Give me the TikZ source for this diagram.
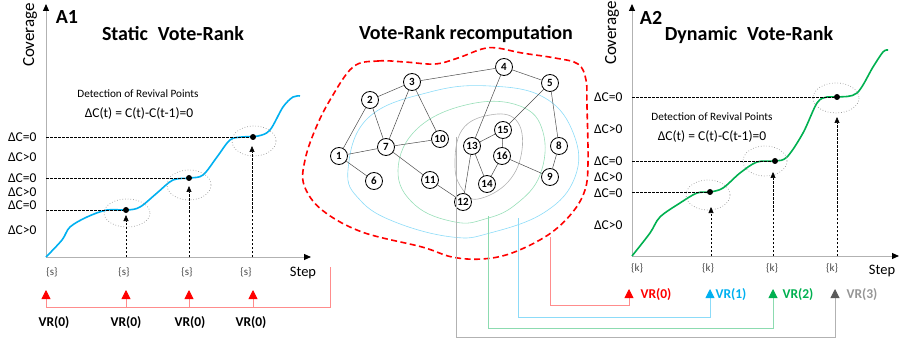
\documentclass[tikz,border=0pt]{standalone}
\usepackage{fontspec}
\setmainfont{Carlito}
\usepackage{tikz}
\usetikzlibrary{arrows.meta}
\definecolor{vrred}{RGB}{255,0,0}
\definecolor{vrblue}{RGB}{0,176,240}
\definecolor{vrgreen}{RGB}{0,176,80}
\definecolor{vrgray}{RGB}{150,150,150}
\tikzset{
    vertex/.style={circle,draw,line width=0.8pt,fill=white,minimum size=17pt,inner sep=0pt,font=\bfseries\fontsize{11}{11}\selectfont},
    edge/.style={draw=black!70,line width=0.5pt},
    axis/.style={draw=black!30,line width=1pt,-{Triangle[length=7pt,width=6pt,color=black]}},
    level/.style={dash pattern=on 2.5pt off 1.5pt,line width=0.6pt},
    revival/.style={level,-{Triangle[length=6pt,width=5pt]}},
    dot/.style={circle,fill=black,inner sep=0pt,minimum size=6pt},
    zone/.style={draw=black!40,dotted,line width=0.7pt},
    title/.style={font=\bfseries\fontsize{20}{23}\selectfont},
    ylab/.style={font=\fontsize{14.5}{16}\selectfont},
    eqlab/.style={font=\fontsize{13.5}{15}\selectfont},
    dlab/.style={font=\fontsize{13.5}{15}\selectfont,anchor=east},
    small/.style={font=\fontsize{11.2}{13}\selectfont},
    tick/.style={font=\fontsize{11}{12}\selectfont,text=black!70},
    vr/.style={font=\bfseries\fontsize{13.5}{15}\selectfont},
    feed/.style={line width=0.9pt,-{Triangle[length=9pt,width=9pt]}}
}

\begin{document}
\begin{tikzpicture}[x=1pt,y=-1pt]
\useasboundingbox (0,0) rectangle (899,339);

% ---------- A1 : static ----------
\node[title] (a1) at (67,17) {A1};
\node[title] (t1) at (173,34) {Static\hspace{0.5em}Vote-Rank};
\node[ylab,rotate=90,font=\fontsize{17}{19}\selectfont] (cov1) at (30,35) {Coverage};
\coordinate (o1) at (46,257);
\coordinate (yt1) at (46,4);
\coordinate (xt1) at (311,257);
\draw[axis] (o1) -- (yt1);
\draw[axis] (o1) -- (xt1);
\node[ylab] (st1) at (303,273) {Step};

\draw[vrblue,line width=1.6pt] plot[smooth,tension=0.55] coordinates {(46,257) (62,240) (70,227) (87,217) (107,210) (127,210) (140,207) (157,193) (173,180) (190,178) (203,175) (217,157) (230,140) (242,137) (258,136) (270,130) (283,107) (293,97) (300,96)};

\node[dot] (s1) at (126,210) {};
\node[dot] (s2) at (189,178) {};
\node[dot] (s3) at (253,137) {};
\draw[zone] (127,213) ellipse [x radius=23,y radius=14];
\draw[zone] (189,185) ellipse [x radius=22,y radius=15];
\draw[zone] (254,141) ellipse [x radius=22,y radius=15];

\draw[level] (46,210) -- (s1);
\draw[level] (46,178) -- (s2);
\draw[level] (46,137) -- (s3);
\draw[revival] (126,257) -- (126,215);
\draw[revival] (189,257) -- (189,186);
\draw[revival] (252,257) -- (252,146);

\node[dlab] (l1a) at (40,137) {ΔC=0};
\node[dlab] (l1b) at (40,157) {ΔC>0};
\node[dlab] (l1c) at (40,178) {ΔC=0};
\node[dlab] (l1d) at (40,192) {ΔC>0};
\node[dlab] (l1e) at (40,205) {ΔC=0};
\node[dlab] (l1f) at (40,230) {ΔC>0};

\node[small] (det1) at (138,94) {Detection of Revival Points};
\node[eqlab] (eq1) at (139,113) {ΔC(t) = C(t)-C(t-1)=0};

\node[tick] (k1a) at (52,272) {\{s\}};
\node[tick] (k1b) at (124,272) {\{s\}};
\node[tick] (k1c) at (187,272) {\{s\}};
\node[tick] (k1d) at (246,272) {\{s\}};

% static feed
\coordinate (sf) at (330,267);
\coordinate (sb) at (46,307);
\draw[vrred!45,line width=0.9pt] (sf) |- (sb);
\draw[feed,draw=vrred!45,-{Triangle[length=9pt,width=9pt,color=vrred]}] (46,307) -- (46,290);
\draw[feed,draw=vrred!45,-{Triangle[length=9pt,width=9pt,color=vrred]}] (126,307) -- (126,290);
\draw[feed,draw=vrred!45,-{Triangle[length=9pt,width=9pt,color=vrred]}] (189,307) -- (189,290);
\draw[feed,draw=vrred!45,-{Triangle[length=9pt,width=9pt,color=vrred]}] (253,307) -- (253,290);
\node[vr] (v1a) at (54,323) {VR(0)};
\node[vr] (v1b) at (126,323) {VR(0)};
\node[vr] (v1c) at (190,323) {VR(0)};
\node[vr] (v1d) at (251,323) {VR(0)};

% ---------- recomputation ----------
\node[title] (t0) at (466,34) {Vote-Rank recomputation};
\draw[vrred,line width=1.6pt,dash pattern=on 6pt off 3.5pt] plot[smooth cycle,tension=0.6] coordinates {(353,67) (378,61) (405,62) (435,64) (458,58) (482,49) (497,48) (522,53) (555,58) (578,64) (586,80) (587,107) (588,163) (585,190) (572,213) (548,235) (512,253) (482,259) (452,257) (422,247) (362,232) (322,210) (304,185) (305,160) (315,130) (330,100)};
\draw[vrblue!45,line width=0.6pt] plot[smooth cycle,tension=0.7] coordinates {(348,170) (368,118) (430,92) (490,86) (545,98) (574,135) (575,177) (545,212) (490,233) (452,237) (395,222) (360,200)};
\draw[vrgreen!40,line width=0.6pt] plot[smooth cycle,tension=0.7] coordinates {(398,170) (418,128) (470,104) (520,106) (543,132) (540,175) (515,205) (485,219) (455,222) (415,205)};
\draw[black!30,line width=0.6pt] plot[smooth cycle,tension=0.7] coordinates {(455,167) (462,130) (490,115) (516,120) (522,150) (508,182) (478,199) (463,190)};

\node[vertex] (1) at (339,156) {1};
\node[vertex] (2) at (370,100) {2};
\node[vertex] (3) at (412,82) {3};
\node[vertex] (4) at (504,67) {4};
\node[vertex] (5) at (550,83) {5};
\node[vertex] (6) at (374,181) {6};
\node[vertex] (7) at (386,147) {7};
\node[vertex] (8) at (559,146) {8};
\node[vertex] (9) at (550,177) {9};
\node[vertex] (10) at (440,139) {10};
\node[vertex] (11) at (430,180) {11};
\node[vertex] (12) at (463,202) {12};
\node[vertex] (13) at (472,146) {13};
\node[vertex] (14) at (487,184) {14};
\node[vertex] (15) at (503,130) {15};
\node[vertex] (16) at (502,156) {16};

\draw[edge] (1) -- (2);
\draw[edge] (1) -- (7);
\draw[edge] (1) -- (6);
\draw[edge] (2) -- (3);
\draw[edge] (2) -- (7);
\draw[edge] (3) -- (7);
\draw[edge] (3) -- (10);
\draw[edge] (3) -- (4);
\draw[edge] (4) -- (5);
\draw[edge] (4) -- (13);
\draw[edge] (5) -- (15);
\draw[edge] (5) -- (8);
\draw[edge] (8) -- (9);
\draw[edge] (16) -- (9);
\draw[edge] (7) -- (10);
\draw[edge] (7) -- (11);
\draw[edge] (11) -- (12);
\draw[edge] (12) -- (13);
\draw[edge] (13) -- (15);
\draw[edge] (13) -- (14);
\draw[edge] (15) -- (16);
\draw[edge] (16) -- (14);

% ---------- A2 : dynamic ----------
\node[title] (a2) at (651,18) {A2};
\node[title] (t2) at (749,35) {Dynamic\hspace{0.5em}Vote-Rank};
\node[ylab,rotate=90,font=\fontsize{17}{19}\selectfont] (cov2) at (612,33) {Coverage};
\coordinate (o2) at (632,256);
\coordinate (yt2) at (632,4);
\coordinate (xt2) at (899,256);
\draw[axis] (o2) -- (yt2);
\draw[axis] (o2) -- (xt2);
\node[ylab] (st2) at (882,271) {Step};

\draw[vrgreen,line width=1.6pt] plot[smooth,tension=0.55] coordinates {(632,256) (650,233) (660,217) (680,203) (697,193) (710,192) (723,188) (740,173) (757,162) (775,161) (787,157) (803,133) (817,103) (827,97) (838,97) (857,93) (873,67) (883,52) (888,50)};

\node[dot] (d1) at (710,192) {};
\node[dot] (d2) at (775,161) {};
\node[dot] (d3) at (837,97) {};
\draw[zone] (708,195) ellipse [x radius=22,y radius=15];
\draw[zone] (765,161) ellipse [x radius=22,y radius=15];
\draw[zone] (836,98) ellipse [x radius=23,y radius=15];

\draw[level] (632,192) -- (d1);
\draw[level] (632,161) -- (d2);
\draw[level] (632,97) -- (d3);
\draw[revival] (711,256) -- (711,207);
\draw[revival] (773,256) -- (773,172);
\draw[revival] (837,256) -- (837,117);

\node[dlab] (l2a) at (626,97) {ΔC=0};
\node[dlab] (l2b) at (626,129) {ΔC>0};
\node[dlab] (l2c) at (626,161) {ΔC=0};
\node[dlab] (l2d) at (626,177) {ΔC>0};
\node[dlab] (l2e) at (626,193) {ΔC=0};
\node[dlab] (l2f) at (626,225) {ΔC>0};

\node[small] (det2) at (712,117) {Detection of Revival Points};
\node[eqlab] (eq2) at (712,136) {ΔC(t) = C(t)-C(t-1)=0};

\node[tick] (k2a) at (637,268) {\{k\}};
\node[tick] (k2b) at (708,268) {\{k\}};
\node[tick] (k2c) at (772,268) {\{k\}};
\node[tick] (k2d) at (832,268) {\{k\}};

% dynamic feeds
\coordinate (r0) at (550,237);
\coordinate (r1) at (518,218);
\coordinate (r2) at (488,216);
\coordinate (r3) at (456,137);
\coordinate (q0) at (629,289);
\coordinate (q1) at (710,289);
\coordinate (q2) at (773,289);
\coordinate (q3) at (835,289);
\draw[feed,draw=vrred!45,-{Triangle[length=9pt,width=9pt,color=vrred]}] (r0) |- (629,305) -- (q0);
\draw[feed,draw=vrblue!45,-{Triangle[length=9pt,width=9pt,color=vrblue]}] (r1) |- (710,317) -- (q1);
\draw[feed,draw=vrgreen!45,-{Triangle[length=9pt,width=9pt,color=vrgreen]}] (r2) |- (773,328) -- (q2);
\draw[feed,draw=black!30,-{Triangle[length=9pt,width=9pt,color=black!65]}] (r3) |- (835,337) -- (q3);
\node[vr,text=vrred,anchor=west] (v2a) at (637,295) {VR(0)};
\node[vr,text=vrblue,anchor=west] (v2b) at (712,295) {VR(1)};
\node[vr,text=vrgreen,anchor=west] (v2c) at (779,295) {VR(2)};
\node[vr,text=vrgray,anchor=west] (v2d) at (843,295) {VR(3)};

\end{tikzpicture}
\end{document}
